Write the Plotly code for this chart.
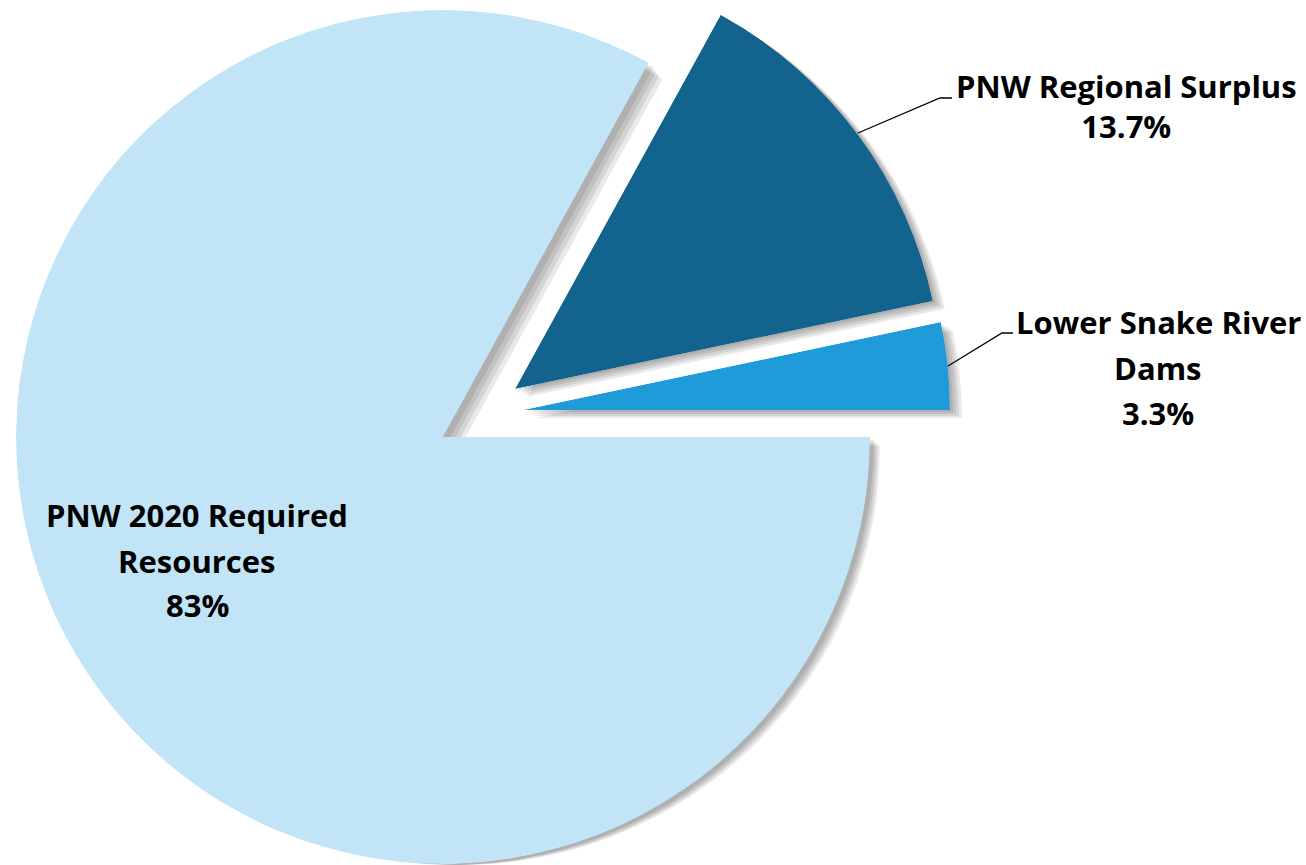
import math
import plotly.graph_objects as go

W, H = 1306, 865

# ---- data ----
categories = ["PNW 2020 Required Resources", "PNW Regional Surplus", "Lower Snake River Dams"]
values = [83, 13.7, 3.3]
name_lines = [["PNW 2020 Required", "Resources"], ["PNW Regional Surplus"], ["Lower Snake River", "Dams"]]
colors = ["#c1e4f7", "#12638e", "#1f9bd9"]

# ---- layout (pixels) ----
R = 427
apex = [(443, 437), (515, 389), (523, 410)]           # exploded wedge apexes
shadow_offsets = [[(6, 3), (10, 5), (14, 7), (18, 9)],  # big slice (radius shrinks at page bottom)
                  [(3, 2), (6, 4), (9, 6), (12, 8)],
                  [(3, 2), (6, 4), (9, 6), (12, 8)]]
shadow_alpha = 0.085
# each label: x centre, and y centres of its text blocks (None => one block per line)
label_pos = [(197, [514.5, 561.0, 605.0]),
             (1126, [105.75]),
             (1158, [321.7, 367.5, 413.0])]
leaders = [None,
           [(858, 133), (940, 98), (952, 98)],
           [(948, 366), (1002, 333), (1013, 333)]]
FONT = "Open Sans"
FSIZE = 31


def sector_bbox(s0, s1):
    arc = s1 - s0
    a0 = s0 % 360
    a1 = a0 + arc
    ax0, ay0 = math.cos(math.radians(a0)), math.sin(math.radians(a0))
    ax1, ay1 = math.cos(math.radians(a1)), math.sin(math.radians(a1))
    if (a0 <= 90 and a1 >= 90) or (a0 > 90 and a1 >= 450):
        y1 = 1
    elif ay0 <= 0 and ay1 <= 0:
        y1 = 0
    else:
        y1 = max(ay0, ay1)
    if (a0 <= 180 and a1 >= 180) or (a0 > 180 and a1 >= 540):
        x0 = -1
    elif ax0 >= 0 and ax1 >= 0:
        x0 = 0
    else:
        x0 = min(ax0, ax1)
    if (a0 <= 270 and a1 >= 270) or (a0 > 270 and a1 >= 630):
        y0 = -1
    elif ay0 >= 0 and ay1 >= 0:
        y0 = 0
    else:
        y0 = min(ay0, ay1)
    if a1 >= 360:
        x1 = 1
    elif ax0 <= 0 and ax1 <= 0:
        x1 = 0
    else:
        x1 = max(ax0, ax1)
    return x0, y0, x1, y1


# slices go clockwise from 3 o'clock in data order
sectors = []
cum = 0.0
total = sum(values)
for v in values:
    a1 = 360 - 360 * cum / total
    a0 = a1 - 360 * v / total
    sectors.append((a0, a1))
    cum += v


def make_domain(cx, cy, r, sec):
    bx0, by0, bx1, by1 = sector_bbox(*sec)
    lims = []
    if bx0 < 0:
        lims.append(cx / -bx0)
    if bx1 > 0:
        lims.append((W - cx) / bx1)
    if by1 > 0:
        lims.append(cy / by1)
    if by0 < 0:
        lims.append((H - cy) / -by0)
    r = min([r] + lims)
    left, right = cx + r * bx0, cx + r * bx1
    top, bottom = cy - r * by1, cy - r * by0
    clamp = lambda t: min(1.0, max(0.0, t))
    return dict(x=[clamp(left / W), clamp(right / W)],
                y=[clamp(1 - bottom / H), clamp(1 - top / H)])


def polar_layout(domain, sec):
    return dict(domain=domain, sector=list(sec), bgcolor="rgba(0,0,0,0)", hole=0,
                bargap=0,
                radialaxis=dict(visible=False, range=[0, 1], autorange=False),
                angularaxis=dict(visible=False, rotation=0, direction="counterclockwise",
                                 thetaunit="degrees"))


fig = go.Figure()
layout_polars = {}
n = 0


def next_id():
    global n
    n += 1
    return "polar" if n == 1 else f"polar{n}"


# shadows first (lower subplot numbers), slices last so they sit on top
for i, v in enumerate(values):
    a0, a1 = sectors[i]
    for (dx, dy) in shadow_offsets[i]:
        pid = next_id()
        layout_polars[pid] = polar_layout(make_domain(apex[i][0] + dx, apex[i][1] + dy, R, (a0, a1)), (a0, a1))
        fig.add_trace(go.Barpolar(r=[1], theta=[(a0 + a1) / 2], width=[a1 - a0], base=0,
                                  marker=dict(color=f"rgba(0,0,0,{shadow_alpha})", line=dict(width=0)),
                                  subplot=pid, hoverinfo="skip", showlegend=False))

for i, v in enumerate(values):
    a0, a1 = sectors[i]
    pid = next_id()
    layout_polars[pid] = polar_layout(make_domain(apex[i][0], apex[i][1], R, (a0, a1)), (a0, a1))
    fig.add_trace(go.Barpolar(r=[1], theta=[(a0 + a1) / 2], width=[a1 - a0], base=0,
                              marker=dict(color=colors[i], line=dict(width=0)),
                              name=categories[i], subplot=pid, showlegend=False,
                              hovertemplate=f"{categories[i]}: {v:g}%<extra></extra>"))

annotations = []
for i, v in enumerate(values):
    lines = name_lines[i] + [f"{v:g}%"]
    xc, ys = label_pos[i]
    blocks = lines if len(ys) == len(lines) else ["<br>".join(lines)]
    for t, yy in zip(blocks, ys):
        annotations.append(dict(text=t, x=xc / W, y=1 - yy / H, xref="paper", yref="paper",
                                xanchor="center", yanchor="middle", align="center", showarrow=False,
                                font=dict(family=FONT, size=FSIZE, color="#000000", weight="bold")))

shapes = []
for pts in leaders:
    if not pts:
        continue
    path = "M " + " L ".join(f"{x / W:.5f},{1 - y / H:.5f}" for x, y in pts)
    shapes.append(dict(type="path", path=path, xref="paper", yref="paper",
                       line=dict(color="#000000", width=1.3)))

fig.update_layout(width=W, height=H, margin=dict(l=0, r=0, t=0, b=0),
                  paper_bgcolor="#ffffff", plot_bgcolor="#ffffff",
                  showlegend=False, annotations=annotations, shapes=shapes,
                  **layout_polars)

fig.write_html("out.html")
